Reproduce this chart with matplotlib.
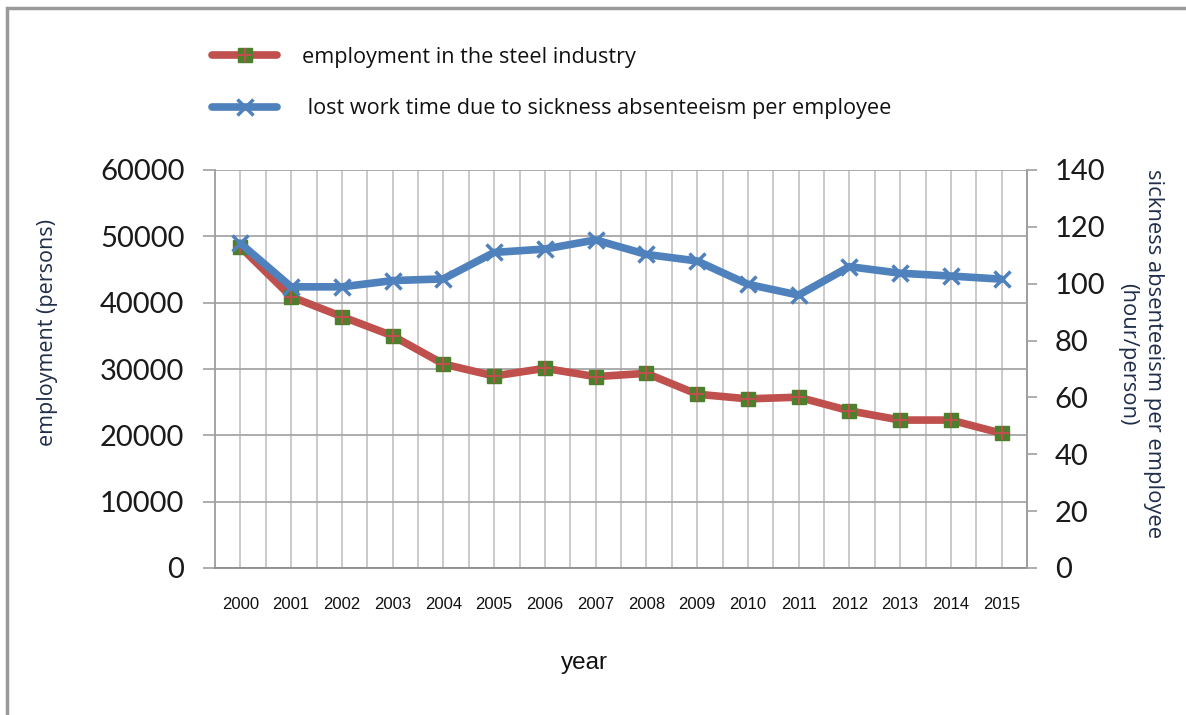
import matplotlib
matplotlib.use("Agg")
import matplotlib.pyplot as plt
from matplotlib.patches import Rectangle

# data
years = [2000, 2001, 2002, 2003, 2004, 2005, 2006, 2007,
         2008, 2009, 2010, 2011, 2012, 2013, 2014, 2015]
employment = [48400, 40900, 37900, 35000, 30750, 28950, 30100, 28850,
              29350, 26200, 25500, 25750, 23700, 22300, 22300, 20300]
absenteeism = [114.2, 98.9, 98.9, 101.1, 101.7, 111.0, 112.2, 115.4,
               110.3, 108.0, 99.8, 96.0, 106.0, 103.7, 102.7, 101.6]
left_ticks = [0, 10000, 20000, 30000, 40000, 50000, 60000]
right_ticks = [0, 20, 40, 60, 80, 100, 120, 140]

RED = "#C0504D"
BLUE = "#4F81BD"
GREEN = "#4E7F2C"
TEXT = "#1F2D4A"

W, H = 1186, 715
fig = plt.figure(figsize=(W / 100, H / 100), dpi=100)
fig.patch.set_facecolor("white")

# outer frame (only top and left edges visible)
fig.add_artist(Rectangle((7 / W, -0.05), 1.2, 1 - 8 / H + 0.05,
                         transform=fig.transFigure, fill=False,
                         edgecolor="#9A9A9A", lw=2.5))

ax = fig.add_axes([215 / W, (H - 568) / H, 812 / W, 398 / H])
ax2 = ax.twinx()

# employment (left axis)
ax.plot(years, employment, color=RED, lw=5.5, solid_capstyle="round",
        zorder=3)
sq, = ax.plot(years, employment, ls="none", marker="s", ms=9.5,
              mfc=GREEN, mec=GREEN, zorder=4)
pl, = ax.plot(years, employment, ls="none", marker="+", ms=9.5,
              mew=1.5, color=RED, zorder=5)
red_line, = ax.plot([], [], color=RED, lw=5.5, solid_capstyle="round")

# sickness absenteeism (right axis)
blue_line, = ax2.plot(years, absenteeism, color=BLUE, lw=5.5,
                      marker="x", ms=11, mew=2.5, mec=BLUE,
                      solid_capstyle="round", zorder=6)

ax.set_xlim(1999.5, 2015.5)
ax.set_ylim(0, 60000)
ax2.set_ylim(0, 140)

ax.set_xticks(years)
ax.set_xticks([y + 0.5 for y in [1999] + years], minor=True)
ax.set_xticklabels([str(y) for y in years], fontsize=12,
                   family="Liberation Sans", color="#111111")
ax.tick_params(axis="x", which="both", length=0, pad=21)

ax.set_yticks(left_ticks)
ax.set_yticklabels([str(v) for v in left_ticks], fontsize=21,
                   family="Lato", color="#1A1A1A")
ax.tick_params(axis="y", length=9, width=1.2, color="#A0A0A0",
               direction="out", pad=13)

ax2.set_yticks(right_ticks)
ax2.set_yticklabels([str(v) for v in right_ticks], fontsize=21,
                    family="Lato", color="#1A1A1A")
ax2.tick_params(axis="y", length=7, width=1.2, color="#A0A0A0",
                direction="out", pad=13)

# grid: light vertical lines every half year, darker horizontal lines
ax.grid(True, axis="x", which="both", color="#C6C6C6", lw=1.3)
ax.grid(True, axis="y", which="major", color="#A6A6A6", lw=1.3)
ax.set_axisbelow(True)

for a in (ax, ax2):
    a.spines["top"].set_visible(False)
    a.spines["left"].set_color("#A0A0A0")
    a.spines["right"].set_color("#A0A0A0")
    a.spines["bottom"].set_color("#8E8E8E")
    for s in a.spines.values():
        s.set_linewidth(1.3)
ax2.spines["left"].set_visible(False)
ax2.spines["bottom"].set_visible(False)

# axis titles
fig.text(48 / W, 1 - 332 / H, "employment (persons)", rotation=90,
         ha="center", va="center", fontsize=15.5, family="Open Sans",
         color=TEXT)
fig.text(1141 / W, 1 - 354 / H,
         "sickness absenteeism per employee\n(hour/person)",
         rotation=270, ha="center", va="center", multialignment="center",
         fontsize=15.8, family="Open Sans", color=TEXT, linespacing=1.3)
fig.text(584 / W, 1 - 663 / H, "year", ha="center", va="center",
         fontsize=17.5, family="Liberation Sans", color="#111111")

fig.legend(handles=[(red_line, sq, pl), blue_line],
           labels=["employment in the steel industry",
                   " lost work time due to sickness absenteeism per employee"],
           loc="upper left", bbox_to_anchor=(212 / W, 1 - 47 / H),
           frameon=False, borderpad=0, borderaxespad=0,
           handlelength=3.0, handletextpad=1.16, labelspacing=1.4,
           prop={"family": "Open Sans", "size": 15.6}, labelcolor="#111111")

fig.savefig("out.png", dpi=100)
